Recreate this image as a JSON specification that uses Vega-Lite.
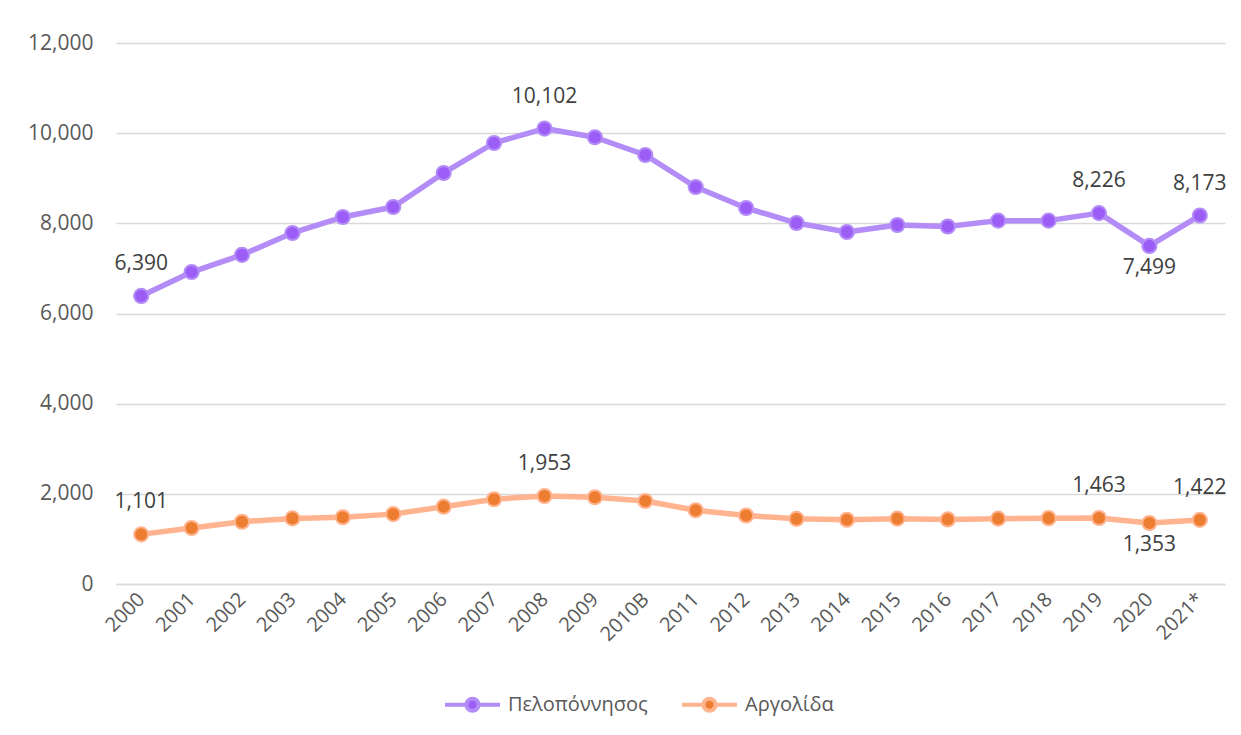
{
  "$schema": "https://vega.github.io/schema/vega-lite/v6.json",
  "width": 1109,
  "height": 541,
  "autosize": {"type": "none"},
  "padding": {"left": 116, "top": 43, "right": 16, "bottom": 151},
  "background": "white",
  "data": {
    "values": [
      {"year": "2000", "region": "Πελοπόννησος", "value": 6390},
      {"year": "2001", "region": "Πελοπόννησος", "value": 6920},
      {"year": "2002", "region": "Πελοπόννησος", "value": 7300},
      {"year": "2003", "region": "Πελοπόννησος", "value": 7786},
      {"year": "2004", "region": "Πελοπόννησος", "value": 8140},
      {"year": "2005", "region": "Πελοπόννησος", "value": 8362},
      {"year": "2006", "region": "Πελοπόννησος", "value": 9117},
      {"year": "2007", "region": "Πελοπόννησος", "value": 9782},
      {"year": "2008", "region": "Πελοπόννησος", "value": 10102},
      {"year": "2009", "region": "Πελοπόννησος", "value": 9910},
      {"year": "2010B", "region": "Πελοπόννησος", "value": 9516},
      {"year": "2011", "region": "Πελοπόννησος", "value": 8806},
      {"year": "2012", "region": "Πελοπόννησος", "value": 8340},
      {"year": "2013", "region": "Πελοπόννησος", "value": 8007},
      {"year": "2014", "region": "Πελοπόννησος", "value": 7808},
      {"year": "2015", "region": "Πελοπόννησος", "value": 7963},
      {"year": "2016", "region": "Πελοπόννησος", "value": 7930},
      {"year": "2017", "region": "Πελοπόννησος", "value": 8060},
      {"year": "2018", "region": "Πελοπόννησος", "value": 8060},
      {"year": "2019", "region": "Πελοπόννησος", "value": 8226},
      {"year": "2020", "region": "Πελοπόννησος", "value": 7499},
      {"year": "2021*", "region": "Πελοπόννησος", "value": 8173},
      {"year": "2000", "region": "Αργολίδα", "value": 1101},
      {"year": "2001", "region": "Αργολίδα", "value": 1242},
      {"year": "2002", "region": "Αργολίδα", "value": 1380},
      {"year": "2003", "region": "Αργολίδα", "value": 1455},
      {"year": "2004", "region": "Αργολίδα", "value": 1480},
      {"year": "2005", "region": "Αργολίδα", "value": 1550},
      {"year": "2006", "region": "Αργολίδα", "value": 1715},
      {"year": "2007", "region": "Αργολίδα", "value": 1880},
      {"year": "2008", "region": "Αργολίδα", "value": 1953},
      {"year": "2009", "region": "Αργολίδα", "value": 1925},
      {"year": "2010B", "region": "Αργολίδα", "value": 1841},
      {"year": "2011", "region": "Αργολίδα", "value": 1635},
      {"year": "2012", "region": "Αργολίδα", "value": 1520},
      {"year": "2013", "region": "Αργολίδα", "value": 1445},
      {"year": "2014", "region": "Αργολίδα", "value": 1425},
      {"year": "2015", "region": "Αργολίδα", "value": 1450},
      {"year": "2016", "region": "Αργολίδα", "value": 1432},
      {"year": "2017", "region": "Αργολίδα", "value": 1450},
      {"year": "2018", "region": "Αργολίδα", "value": 1460},
      {"year": "2019", "region": "Αργολίδα", "value": 1463},
      {"year": "2020", "region": "Αργολίδα", "value": 1353},
      {"year": "2021*", "region": "Αργολίδα", "value": 1422}
    ]
  },
  "encoding": {
    "x": {
      "field": "year",
      "type": "ordinal",
      "sort": null,
      "scale": {"type": "point", "padding": 0.5},
      "axis": {
        "title": null,
        "labelAngle": -45,
        "labelAlign": "right",
        "labelBaseline": "middle",
        "labelFont": "Open Sans",
        "labelFontSize": 20,
        "labelColor": "#595959",
        "labelPadding": 12,
        "ticks": false,
        "grid": false,
        "domainColor": "#D9D9D9",
        "domainWidth": 1.5
      }
    },
    "y": {
      "field": "value",
      "type": "quantitative",
      "scale": {"domain": [0, 12000], "nice": false},
      "axis": {
        "title": null,
        "values": [0, 2000, 4000, 6000, 8000, 10000, 12000],
        "format": ",.0f",
        "labelFont": "Open Sans",
        "labelFontSize": 21,
        "labelColor": "#595959",
        "labelPadding": 23,
        "ticks": false,
        "domain": false,
        "gridColor": "#D9D9D9",
        "gridWidth": 1.5
      }
    }
  },
  "layer": [
    {
      "mark": {"type": "line", "strokeWidth": 5.5, "strokeCap": "round", "strokeJoin": "round"},
      "encoding": {
        "stroke": {
          "field": "region",
          "type": "nominal",
          "scale": {"domain": ["Πελοπόννησος", "Αργολίδα"], "range": ["#B38CF7", "#FFB38E"]},
          "legend": {
            "title": null,
            "orient": "none",
            "legendX": 327,
            "legendY": 632,
            "direction": "horizontal",
            "symbolType": "M-1,0L-0.22,0M0.22,0L1,0M-0.22,0A0.22,0.22,0,1,0,0.22,0A0.22,0.22,0,1,0,-0.22,0",
            "symbolSize": 3025,
            "symbolStrokeWidth": 4,
            "symbolOpacity": 1,
            "labelFont": "Open Sans",
            "labelFontSize": 20,
            "labelColor": "#595959",
            "labelOffset": 6,
            "columnPadding": 26,
            "encode": {
              "symbols": {
                "update": {
                  "fill": {"scale": "fill", "field": "value"}
                }
              }
            }
          }
        }
      }
    },
    {
      "mark": {"type": "point", "filled": true, "size": 200, "strokeWidth": 2, "opacity": 1},
      "encoding": {
        "fill": {
          "field": "region",
          "type": "nominal",
          "scale": {"domain": ["Πελοπόννησος", "Αργολίδα"], "range": ["#9B5DF5", "#ED7D31"]},
          "legend": null
        },
        "stroke": {
          "field": "region",
          "type": "nominal",
          "legend": null
        }
      }
    },
    {
      "transform": [{"filter": {"field": "year", "oneOf": ["2000", "2008", "2019", "2021*"]}}],
      "mark": {"type": "text", "dy": -32, "font": "Open Sans", "fontSize": 21, "color": "#404040"},
      "encoding": {"text": {"field": "value", "type": "quantitative", "format": ",.0f"}}
    },
    {
      "transform": [{"filter": {"field": "year", "equal": "2020"}}],
      "mark": {"type": "text", "dy": 22, "font": "Open Sans", "fontSize": 21, "color": "#404040"},
      "encoding": {"text": {"field": "value", "type": "quantitative", "format": ",.0f"}}
    }
  ],
  "config": {
    "view": {"stroke": null}
  }
}
